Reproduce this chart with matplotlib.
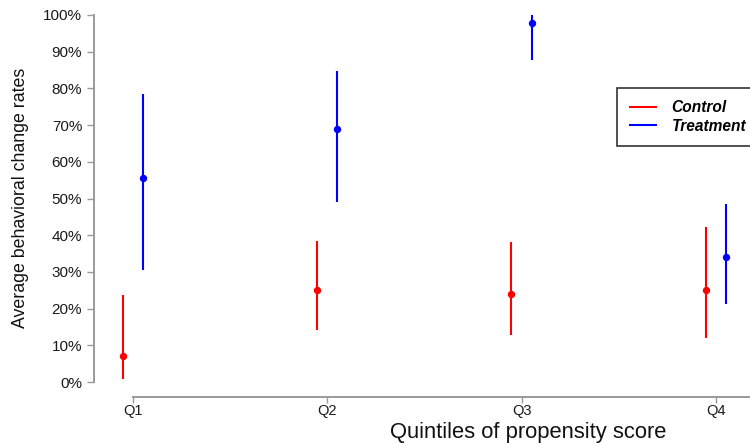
import numpy as np
import matplotlib.pyplot as plt
from matplotlib.ticker import PercentFormatter

plt.rcParams['font.family'] = ['Liberation Sans', 'DejaVu Sans']

quintiles = ['Q1', 'Q2', 'Q3', 'Q4']
control_mean = [0.071, 0.250, 0.240, 0.250]
control_low = [0.008, 0.142, 0.128, 0.120]
control_high = [0.237, 0.384, 0.381, 0.422]
treat_mean = [0.556, 0.690, 0.978, 0.340]
treat_low = [0.305, 0.490, 0.877, 0.213]
treat_high = [0.785, 0.847, 1.000, 0.485]

x = np.arange(1, len(quintiles) + 1)
off = 0.052

fig = plt.figure(figsize=(7.5, 4.43), dpi=100)
ax = fig.add_axes([94 / 750, 1 - 382 / 443, 656 / 750, 367 / 443])

ax.vlines(x - off, control_low, control_high, color='#ff0000', lw=1.5, label='Control')
ax.plot(x - off, control_mean, 'o', color='#ff0000', ms=4.3)
ax.vlines(x + off, treat_low, treat_high, color='#0000ff', lw=1.5, label='Treatment')
ax.plot(x + off, treat_mean, 'o', color='#0000ff', ms=4.3)

ax.set_xlim(1 - 39 / 194.3, 1 + 617 / 194.3)
ax.set_ylim(0, 1)
ax.set_xticks(x)
ax.set_xticklabels(quintiles)
ax.set_yticks(np.arange(0, 1.01, 0.1))
ax.yaxis.set_major_formatter(PercentFormatter(1.0, decimals=0))

for s in ['top', 'right']:
    ax.spines[s].set_visible(False)
ax.spines['bottom'].set_position(('outward', 10.8))
ax.spines['bottom'].set_bounds(1, ax.get_xlim()[1])
for s in ['left', 'bottom']:
    ax.spines[s].set_color('#9a9a9a')
    ax.spines[s].set_linewidth(1.4)
ax.tick_params(axis='both', colors='#9a9a9a', width=1, labelcolor='#1a1a1a')
ax.tick_params(axis='y', length=5, pad=3.5, labelsize=11)
ax.tick_params(axis='x', length=4, pad=1, labelsize=10.5)

ax.set_xlabel('Quintiles of propensity score', fontsize=15.8, color='#111111')
ax.xaxis.label.set_va('baseline')
ax.xaxis.set_label_coords((528 - 94) / 656, (382 - 438) / 367)
ax.set_ylabel('Average behavioral change rates', fontsize=12.8, color='#111111')
ax.yaxis.label.set_va('center')
ax.yaxis.set_label_coords((21 - 94) / 656, (382 - 198) / 367)

leg = ax.legend(loc='upper left', bbox_to_anchor=(617 / 750, 1 - 88 / 443),
                bbox_transform=fig.transFigure, borderaxespad=0, frameon=True,
                fancybox=False, edgecolor='black', handlelength=1.8,
                handletextpad=0.9, borderpad=0.8, labelspacing=0.2,
                prop={'weight': 'bold', 'style': 'italic', 'size': 11.2})
leg.get_frame().set_linewidth(1.2)

fig.savefig('out.png', dpi=100)
